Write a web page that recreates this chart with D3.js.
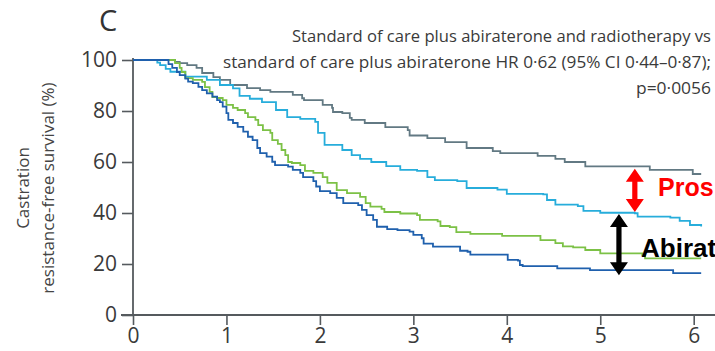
<!DOCTYPE html>
<html>
<head>
<meta charset="utf-8">
<script src="https://cdn.jsdelivr.net/npm/d3@7"></script>
<style>
  html, body { margin: 0; padding: 0; background: #fff; }
  svg { display: block; }
</style>
</head>
<body>
<svg id="chart" width="715" height="351"></svg>
<script>
// ---- data (years, % free of castration resistance) ----
const grayT = [0, 0.45, 0.50, 0.58, 0.68, 0.74, 0.86, 0.93, 1.04, 1.22, 1.36, 1.47, 1.71, 1.81, 1.83, 2.03, 2.13, 2.14, 2.24, 2.32, 2.34, 2.48, 2.70, 2.94, 2.96, 3.15, 3.34, 3.57, 3.85, 3.93, 4.33, 4.52, 4.62, 4.84, 5.53, 5.99, 6.08];
const grayS = [100, 99.3, 98.8, 98.0, 96.9, 94.9, 93.3, 92.2, 90.2, 89.0, 88.2, 87.5, 86.3, 85.0, 84.3, 82.4, 81.2, 79.6, 79.2, 77.3, 76.5, 75.3, 73.7, 72.5, 70.4, 69.4, 67.8, 65.5, 64.3, 63.5, 62.4, 61.2, 60.0, 58.3, 56.9, 55.3, 55.3];

const cyanT = [0, 0.26, 0.29, 0.35, 0.40, 0.56, 0.79, 0.93, 1.07, 1.14, 1.25, 1.38, 1.53, 1.65, 1.79, 1.95, 1.98, 2.05, 2.24, 2.34, 2.43, 2.55, 2.71, 2.86, 3.04, 3.15, 3.23, 3.47, 3.57, 3.90, 4.00, 4.39, 4.43, 4.52, 4.76, 4.82, 5.00, 5.37, 5.40, 5.75, 5.85, 5.96, 6.08];
const cyanS = [100, 99.0, 98.0, 96.5, 95.4, 93.5, 92.2, 90.2, 88.9, 85.9, 84.8, 83.5, 80.4, 77.6, 76.9, 75.7, 71.4, 66.7, 64.7, 62.7, 61.2, 60.0, 58.4, 56.9, 56.5, 54.1, 52.9, 52.5, 49.8, 49.2, 47.5, 47.3, 45.1, 43.3, 42.7, 40.8, 40.1, 39.9, 38.6, 38.2, 36.9, 35.3, 34.7];

const greenT = [0, 0.45, 0.50, 0.52, 0.56, 0.64, 0.74, 0.77, 0.82, 0.85, 0.90, 0.96, 1.00, 1.07, 1.12, 1.20, 1.23, 1.31, 1.34, 1.39, 1.47, 1.49, 1.55, 1.59, 1.63, 1.66, 1.70, 1.79, 1.84, 1.93, 2.03, 2.08, 2.18, 2.29, 2.43, 2.49, 2.54, 2.66, 2.69, 2.86, 3.04, 3.07, 3.26, 3.29, 3.39, 3.46, 3.61, 3.95, 4.36, 4.52, 4.60, 4.71, 4.84, 5.00, 5.45, 5.48, 6.08];
const greenS = [100, 98.8, 96.9, 95.3, 92.9, 92.2, 91.4, 89.4, 87.5, 85.5, 85.1, 84.3, 82.4, 81.2, 80.4, 79.2, 77.6, 76.5, 74.5, 72.5, 71.4, 68.6, 67.1, 64.7, 62.7, 60.0, 59.6, 58.8, 56.5, 55.7, 54.1, 51.8, 49.0, 47.8, 46.3, 43.9, 42.5, 41.6, 40.4, 39.8, 39.2, 37.3, 36.7, 34.9, 34.5, 32.5, 31.8, 31.0, 29.4, 28.2, 26.9, 26.5, 25.5, 24.2, 23.5, 22.2, 22.2];

const blueT = [0, 0.38, 0.42, 0.47, 0.50, 0.56, 0.59, 0.64, 0.70, 0.74, 0.79, 0.85, 0.90, 0.93, 0.96, 1.00, 1.02, 1.07, 1.12, 1.18, 1.23, 1.28, 1.33, 1.36, 1.43, 1.49, 1.52, 1.66, 1.71, 1.79, 1.82, 1.93, 1.96, 2.00, 2.11, 2.18, 2.25, 2.41, 2.45, 2.50, 2.57, 2.61, 2.72, 2.83, 2.96, 3.00, 3.09, 3.11, 3.21, 3.50, 3.58, 3.61, 4.01, 4.12, 4.14, 4.17, 4.54, 4.89, 5.78, 6.08];
const blueS = [100, 98.4, 96.9, 95.3, 94.1, 92.7, 91.5, 90.9, 89.5, 88.2, 86.9, 85.6, 84.3, 83.5, 81.7, 79.2, 76.5, 75.3, 73.8, 71.9, 69.9, 68.6, 65.5, 63.5, 62.1, 60.1, 58.8, 58.2, 56.9, 55.7, 54.1, 52.5, 50.4, 48.6, 47.8, 45.9, 43.9, 43.1, 41.2, 39.2, 37.3, 34.6, 33.7, 33.3, 32.7, 31.4, 30.1, 28.0, 26.8, 25.2, 24.8, 23.7, 21.6, 21.3, 19.6, 19.2, 18.3, 17.6, 16.4, 16.4];

const xTicks = [0, 1, 2, 3, 4, 5, 6];
const yTicks = [0, 20, 40, 60, 80, 100];
const yTitleLines = ["Castration", "resistance-free survival (%)"];
const panelLabel = "C";
const noteLines = [
  "Standard of care plus abiraterone and radiotherapy vs",
  "standard of care plus abiraterone HR 0·62 (95% CI 0·44–0·87);",
  "p=0·0056"
];
const redLabel = "Pros";
const blackLabel = "Abirat";
// arrows span between curve levels (years, % values)
const redArrow = { t: 5.37, from: 57.4, to: 40.4 };
const blackArrow = { t: 5.20, from: 39.6, to: 15.6 };

// ---- drawing ----
const svg = d3.select("#chart");
const x = d3.scaleLinear().domain([0, 6]).range([133, 693.7]);
const y = d3.scaleLinear().domain([0, 100]).range([315, 60]);
const axisColor = "#555a5e";
const textColor = "#3a3a3a";
const font = "'Open Sans', 'Noto Sans', sans-serif";

// Axes
const yAxis = svg.append("g").attr("transform", "translate(133,0)")
  .call(d3.axisLeft(y).tickValues(yTicks).tickSize(11).tickPadding(5).tickFormat(d3.format("d")));
const xAxis = svg.append("g").attr("transform", "translate(0,315)")
  .call(d3.axisBottom(x).tickValues(xTicks).tickSize(10).tickPadding(3).tickFormat(d3.format("d")));
[yAxis, xAxis].forEach(g => {
  g.select(".domain").remove();
  g.selectAll(".tick line").attr("stroke", axisColor).attr("stroke-width", 1.6);
  g.selectAll(".tick text").attr("fill", textColor).style("font-family", font).style("font-size", "21px");
});
svg.append("line").attr("x1", 133).attr("x2", 133).attr("y1", y(100) - 2).attr("y2", 315)
  .attr("stroke", axisColor).attr("stroke-width", 1.8);
svg.append("line").attr("x1", 121).attr("x2", 715).attr("y1", 315).attr("y2", 315)
  .attr("stroke", axisColor).attr("stroke-width", 1.8);

// Curves
const series = [
  { t: grayT, s: grayS, color: "#627983" },
  { t: cyanT, s: cyanS, color: "#27addb" },
  { t: greenT, s: greenS, color: "#7cc146" },
  { t: blueT, s: blueS, color: "#1f60ad" }
];
const line = d3.line().x(d => x(d[0])).y(d => y(d[1])).curve(d3.curveStepAfter);
series.forEach(sr => {
  svg.append("path").datum(sr.t.map((t, i) => [t, sr.s[i]]))
    .attr("d", line).attr("fill", "none").attr("stroke", sr.color)
    .attr("stroke-width", 1.8).attr("stroke-linejoin", "miter");
});

// Y title
const yTitle = svg.append("text").attr("transform", "translate(0,188) rotate(-90)")
  .attr("text-anchor", "middle").attr("fill", "#444").style("font-family", font).style("font-size", "17px");
yTitle.append("tspan").attr("x", 0).attr("y", 29).text(yTitleLines[0]);
yTitle.append("tspan").attr("x", 0).attr("y", 54).text(yTitleLines[1]);

// Panel label
svg.append("text").attr("x", 99).attr("y", 31).attr("fill", "#333")
  .style("font-family", font).style("font-size", "29px").text(panelLabel);

// Note
const noteY = [42, 68, 94];
const noteW = [419, 488, 75];
noteLines.forEach((s, i) => {
  svg.append("text").attr("x", 711).attr("y", noteY[i]).attr("text-anchor", "end")
    .attr("fill", textColor).style("font-family", font).style("font-size", "15.5px")
    .attr("textLength", noteW[i]).attr("lengthAdjust", "spacingAndGlyphs").text(s);
});

// Double-headed arrows
function dblArrow(t, v1, v2, color) {
  const ax = x(t), ya = y(v1), yb = y(v2);
  const hw = 9, hh = 13, sw = 2.6;
  const p = d3.path();
  p.moveTo(ax, ya);
  p.lineTo(ax + hw, ya + hh); p.lineTo(ax + sw, ya + hh);
  p.lineTo(ax + sw, yb - hh); p.lineTo(ax + hw, yb - hh);
  p.lineTo(ax, yb);
  p.lineTo(ax - hw, yb - hh); p.lineTo(ax - sw, yb - hh);
  p.lineTo(ax - sw, ya + hh); p.lineTo(ax - hw, ya + hh);
  p.closePath();
  svg.append("path").attr("d", p.toString()).attr("fill", color);
}
dblArrow(redArrow.t, redArrow.from, redArrow.to, "#ff0000");
dblArrow(blackArrow.t, blackArrow.from, blackArrow.to, "#000000");

svg.append("text").attr("x", 658).attr("y", 196).attr("fill", "#ff0000")
  .style("font-family", "'Liberation Sans', Arial, sans-serif").style("font-weight", "bold").style("font-size", "25px").text(redLabel);
svg.append("text").attr("x", 641).attr("y", 257).attr("fill", "#000")
  .style("font-family", "'Liberation Sans', Arial, sans-serif").style("font-weight", "bold").style("font-size", "26px").text(blackLabel);
</script>
</body>
</html>
